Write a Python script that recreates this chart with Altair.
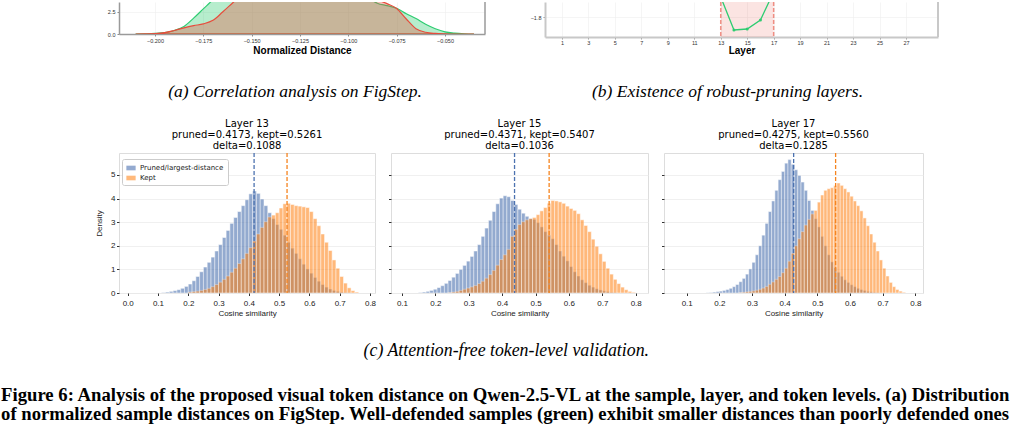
import altair as alt
import pandas as pd

SANS = "DejaVu Sans"
SERIF = "Liberation Serif"

GREEN = "#2ecc71"
RED = "#e74c3c"
BLUE = "#4c72b0"
ORANGE = "#ff7f0e"
ORANGE_LINE = "#f5841f"

# ---------------- (a) normalized sample distance densities (bottom part visible) -------------
a_x = [-0.210, -0.205, -0.200, -0.195, -0.190, -0.185, -0.180, -0.175, -0.170, -0.165,
       -0.160, -0.155, -0.150, -0.140, -0.130, -0.120, -0.110, -0.100, -0.095, -0.090,
       -0.085, -0.080, -0.075, -0.070, -0.065, -0.060, -0.055, -0.050, -0.045, -0.040, -0.035]
a_green = [0.00, 0.02, 0.06, 0.15, 0.40, 0.85, 1.80, 2.85, 3.90, 5.00,
           6.00, 6.80, 7.50, 8.50, 9.00, 9.00, 8.50, 7.00, 5.50, 4.20,
           3.50, 3.22, 2.93, 2.30, 1.75, 1.10, 0.60, 0.25, 0.10, 0.03, 0.00]
a_red = [0.00, 0.02, 0.05, 0.15, 0.40, 0.70, 0.95, 1.15, 1.55, 2.50,
         3.50, 4.50, 5.50, 7.00, 8.00, 8.50, 8.00, 6.50, 5.20, 4.40,
         3.90, 3.45, 2.90, 1.70, 0.60, 0.20, 0.07, 0.02, 0.00, 0.00, 0.00]
a_ticks = [-0.200, -0.175, -0.150, -0.125, -0.100, -0.075, -0.050]
a_yticks = [0.0, 2.5]

# ---------------- (b) robust-pruning layers (bottom part visible) ----------------
b_layers = [13, 14, 15, 16, 17]
b_distance = [-1.60, -1.93, -1.92, -1.83, -1.55]
b_robust = [13, 17]
b_ticks = [1, 3, 5, 7, 9, 11, 13, 15, 17, 19, 21, 23, 25, 27]
b_yticks = [-1.8]

# ---------------- (c) token-level histograms ----------------
SERIES = ["Pruned/largest-distance", "Kept"]
c_layers = [13, 15, 17]
c_pruned_mean = [0.4173, 0.4371, 0.4275]
c_kept_mean = [0.5261, 0.5407, 0.5560]
c_delta = [0.1088, 0.1036, 0.1285]
c_bin_width = [0.0125, 0.011, 0.01]
c_pruned_first_edge = [0.1125, 0.150, 0.160]
c_kept_first_edge = [0.2000, 0.238, 0.260]
c_pruned_density = [
    [0.02, 0.04, 0.07, 0.10, 0.14, 0.20, 0.28, 0.38, 0.52, 0.70,
     0.90, 1.10, 1.30, 1.52, 1.78, 2.05, 2.35, 2.65, 2.95, 3.20,
     3.45, 3.70, 3.95, 4.20, 4.32, 4.22, 3.98, 3.70, 3.40, 3.15,
     2.90, 2.70, 2.45, 2.15, 1.90, 1.68, 1.45, 1.22, 1.02, 0.84,
     0.66, 0.50, 0.36, 0.25, 0.17, 0.11, 0.07, 0.04, 0.02, 0.01],
    [0.02, 0.04, 0.07, 0.11, 0.16, 0.23, 0.31, 0.41, 0.53, 0.67,
     0.83, 1.00, 1.17, 1.35, 1.55, 1.78, 2.05, 2.40, 2.75, 3.08,
     3.45, 3.78, 4.02, 4.12, 4.08, 3.92, 3.75, 3.55, 3.38, 3.25,
     3.15, 3.12, 2.98, 2.80, 2.60, 2.45, 2.30, 2.05, 1.78, 1.56,
     1.36, 1.12, 0.90, 0.72, 0.56, 0.44, 0.33, 0.25, 0.18, 0.13,
     0.09, 0.06, 0.03, 0.02],
    [0.01, 0.02, 0.04, 0.06, 0.08, 0.11, 0.15, 0.20, 0.27, 0.36,
     0.48, 0.62, 0.80, 1.02, 1.30, 1.62, 2.00, 2.45, 2.95, 3.45,
     3.90, 4.35, 4.80, 5.15, 5.50, 5.65, 5.45, 5.22, 4.98, 4.70,
     4.35, 3.92, 3.50, 3.15, 2.80, 2.40, 2.00, 1.62, 1.32, 1.08,
     0.88, 0.71, 0.56, 0.45, 0.35, 0.27, 0.20, 0.15, 0.11, 0.07,
     0.05, 0.03, 0.02],
]
c_kept_density = [
    [0.04, 0.06, 0.08, 0.11, 0.15, 0.20, 0.27, 0.36, 0.46, 0.58,
     0.72, 0.88, 1.05, 1.25, 1.45, 1.68, 1.92, 2.20, 2.50, 2.78,
     3.02, 3.22, 3.30, 3.40, 3.60, 3.78, 3.80, 3.75, 3.70, 3.68,
     3.65, 3.62, 3.45, 3.15, 2.85, 2.50, 2.15, 1.80, 1.40, 1.05,
     0.70, 0.42, 0.22, 0.10, 0.04],
    [0.02, 0.04, 0.07, 0.11, 0.16, 0.21, 0.26, 0.32, 0.40, 0.50,
     0.63, 0.78, 0.96, 1.18, 1.42, 1.62, 1.85, 2.40, 2.70, 2.90,
     3.02, 3.10, 3.15, 3.20, 3.32, 3.48, 3.62, 3.80, 3.92, 3.90,
     3.86, 3.80, 3.68, 3.58, 3.50, 3.36, 3.10, 2.86, 2.60, 2.28,
     1.98, 1.66, 1.34, 1.05, 0.80, 0.58, 0.40, 0.25, 0.14, 0.07,
     0.03],
    [0.02, 0.03, 0.05, 0.07, 0.09, 0.12, 0.16, 0.21, 0.28, 0.37,
     0.47, 0.58, 0.70, 0.86, 1.05, 1.35, 1.68, 2.00, 2.30, 2.60,
     2.88, 3.12, 3.35, 3.50, 3.85, 4.15, 4.35, 4.42, 4.46, 4.55,
     4.66, 4.56, 4.42, 4.28, 4.10, 3.90, 3.70, 3.48, 3.18, 2.85,
     2.50, 2.15, 1.78, 1.40, 1.05, 0.72, 0.45, 0.27, 0.15, 0.08,
     0.03],
]
c_x_domain = [[-0.0287, 0.8165], [0.0671, 0.8368], [0.0305, 0.8236]]
c_x_ticks = [[0.0, 0.1, 0.2, 0.3, 0.4, 0.5, 0.6, 0.7, 0.8],
             [0.1, 0.2, 0.3, 0.4, 0.5, 0.6, 0.7, 0.8],
             [0.1, 0.2, 0.3, 0.4, 0.5, 0.6, 0.7, 0.8]]
c_y_ticks = [0, 1, 2, 3, 4, 5]
c_y_max = 5.93

caption_a = "(a) Correlation analysis on FigStep."
caption_b = "(b) Existence of robust-pruning layers."
caption_c = "(c) Attention-free token-level validation."
figure_caption = [
    "Figure 6: Analysis of the proposed visual token distance on Qwen-2.5-VL at the sample, layer, and token levels. (a) Distribution",
    "of normalized sample distances on FigStep. Well-defended samples (green) exhibit smaller distances than poorly defended ones",
]

# ---------------- sizes ----------------
A_W, A_H = 366, 32
B_W, B_H = 393, 35
P_W = [256, 257, 259]
P_H = 140


def caption_title(text, offset, dx):
    return alt.TitleParams(text=text, orient="bottom", anchor="middle", frame="group",
                           font=SERIF, fontSize=17.5, fontStyle="italic", fontWeight="normal",
                           color="black", baseline="middle", offset=offset, dx=dx)


# ---------------- chart (a) ----------------
a_rows = [{"x": x, "density": d, "group": "Well-defended"} for x, d in zip(a_x, a_green)]
a_rows += [{"x": x, "density": d, "group": "Poorly-defended"} for x, d in zip(a_x, a_red)]
a_df = pd.DataFrame(a_rows)
a_xscale = alt.Scale(domain=[-0.2186, -0.0293], nice=False, zero=False)
a_yscale = alt.Scale(domain=[0, 3.636], nice=False)
a_xaxis = alt.Axis(values=a_ticks, format=".3f", labelFontSize=5.5, tickSize=2, labelPadding=2,
                   labelOverlap=False, tickColor="#888888", labelColor="#333333",
                   title="Normalized Distance", titleFontSize=10, titleFontWeight="bold",
                   titleColor="black", titlePadding=2, domainColor="#9a9a9a", domainWidth=1.5,
                   grid=True, gridColor="#efefef", gridWidth=0.6)
a_yaxis = alt.Axis(values=a_yticks, format=".1f", labelFontSize=5.5, tickSize=2, labelPadding=2,
                   labelOverlap=False, tickColor="#888888", labelColor="#333333", title=None,
                   domainColor="#9a9a9a", domainWidth=1.5, grid=True, gridColor="#efefef", gridWidth=0.6)


def a_area(group, color):
    return alt.Chart(a_df).transform_filter(alt.datum.group == group).mark_area(
        clip=True, interpolate="monotone", color=color, fillOpacity=0.35,
        stroke=color, strokeWidth=1.2, strokeOpacity=1
    ).encode(
        x=alt.X("x:Q", scale=a_xscale, axis=a_xaxis),
        y=alt.Y("density:Q", scale=a_yscale, axis=a_yaxis),
    )


a_border = alt.Chart(pd.DataFrame({"k": [0]})).mark_rule(color="#9a9a9a", strokeWidth=1.5).encode(
    x=alt.value(A_W), y=alt.value(0), y2=alt.value(A_H))

chart_a = alt.layer(a_area("Well-defended", GREEN), a_area("Poorly-defended", RED), a_border).properties(
    width=A_W, height=A_H, view=alt.ViewBackground(stroke="transparent"),
    title=caption_title(caption_a, 36, -7))

# ---------------- chart (b) ----------------
b_xscale = alt.Scale(domain=[-0.28, 29.42], nice=False, zero=False)
b_yscale = alt.Scale(domain=[-2.0, -1.65], nice=False, zero=False)
b_xaxis = alt.Axis(values=b_ticks, format="d", labelFontSize=5.5, tickSize=2, labelPadding=1,
                   labelOverlap=False, tickColor="#999999", labelColor="#333333", title="Layer",
                   titleFontSize=10, titleFontWeight="bold", titleColor="black", titlePadding=0,
                   domainColor="#c8c8c8", domainWidth=2, grid=True, gridColor="#eeeeee", gridWidth=0.6)
b_yaxis = alt.Axis(values=b_yticks, format=".1f", labelFontSize=5.5, tickSize=2, labelPadding=2,
                   labelOverlap=False, tickColor="#999999", labelColor="#333333", title=None,
                   domainColor="#c8c8c8", domainWidth=2, grid=True, gridColor="#eeeeee", gridWidth=0.6)

b_band_df = pd.DataFrame({"start": [b_robust[0]], "end": [b_robust[1]]})
b_rule_df = pd.DataFrame({"layer": b_robust})
b_df = pd.DataFrame({"layer": b_layers, "distance": b_distance})

b_band = alt.Chart(b_band_df).mark_rect(color=RED, opacity=0.15).encode(
    x=alt.X("start:Q", scale=b_xscale, axis=b_xaxis), x2="end:Q")
b_rules = alt.Chart(b_rule_df).mark_rule(color=RED, opacity=0.6, strokeWidth=1.5, strokeDash=[4, 2]).encode(
    x=alt.X("layer:Q", scale=b_xscale, axis=b_xaxis))
b_line = alt.Chart(b_df).mark_line(color=GREEN, strokeWidth=1.3, clip=True).encode(
    x=alt.X("layer:Q", scale=b_xscale, axis=b_xaxis),
    y=alt.Y("distance:Q", scale=b_yscale, axis=b_yaxis))
b_points = alt.Chart(b_df).mark_circle(color=GREEN, size=9, opacity=1, clip=True).encode(
    x=alt.X("layer:Q", scale=b_xscale, axis=b_xaxis),
    y=alt.Y("distance:Q", scale=b_yscale, axis=b_yaxis))
b_border = alt.Chart(pd.DataFrame({"k": [0]})).mark_rule(color="#c8c8c8", strokeWidth=2).encode(
    x=alt.value(B_W), y=alt.value(0), y2=alt.value(B_H))

chart_b = alt.layer(b_band, b_rules, b_line, b_points, b_border).properties(
    width=B_W, height=B_H, view=alt.ViewBackground(stroke="transparent"),
    title=caption_title(caption_b, 36, -14))

row1 = alt.hconcat(chart_a, chart_b, spacing=60, bounds="flush")


# ---------------- histogram panels ----------------
def hist_panel(i):
    w = c_bin_width[i]
    rows = []
    for j, d in enumerate(c_pruned_density[i]):
        s = c_pruned_first_edge[i] + j * w
        rows.append({"start": s, "end": s + w, "density": d, "series": SERIES[0]})
    for j, d in enumerate(c_kept_density[i]):
        s = c_kept_first_edge[i] + j * w
        rows.append({"start": s, "end": s + w, "density": d, "series": SERIES[1]})
    df = pd.DataFrame(rows)

    xscale = alt.Scale(domain=c_x_domain[i], nice=False, zero=False)
    yscale = alt.Scale(domain=[0, c_y_max], nice=False)
    xaxis = alt.Axis(values=c_x_ticks[i], format=".1f", labelFontSize=8, tickSize=2.5, labelPadding=3.5,
                     labelOverlap=False, tickColor="#333333", labelColor="#222222",
                     title="Cosine similarity", titleFontSize=8, titleFontWeight="normal",
                     titleColor="#222222", titlePadding=2, domain=False, grid=False)
    if i == 0:
        yaxis = alt.Axis(values=c_y_ticks, format="d", labelFontSize=8, tickSize=2.5, labelPadding=1.5,
                         labelOverlap=False, tickColor="#333333", labelColor="#222222", title="Density",
                         titleFontSize=8, titleFontWeight="normal", titleColor="#222222",
                         titlePadding=7, domain=False, grid=True, gridColor="#ececec", gridWidth=0.8)
        legend = alt.Legend(title=None, orient="none", legendX=3, legendY=6, fillColor="white",
                            strokeColor="#cccccc", padding=4, cornerRadius=2, labelFontSize=7,
                            labelFont=SANS, labelColor="#222222", symbolType="M-1,-0.5H1V0.5H-1Z",
                            symbolSize=86, symbolStrokeWidth=0, symbolOpacity=0.6, rowPadding=2,
                            labelLimit=300)
    else:
        yaxis = alt.Axis(values=c_y_ticks, labels=False, tickSize=2.5, tickColor="#333333", title=None,
                         domain=False, grid=True, gridColor="#ececec", gridWidth=0.8)
        legend = None

    bars = alt.Chart(df).mark_rect(stroke="white", strokeWidth=0.5, clip=True).encode(
        x=alt.X("start:Q", scale=xscale, axis=xaxis),
        x2="end:Q",
        y=alt.Y("density:Q", scale=yscale, axis=yaxis),
        y2=alt.datum(0),
        color=alt.Color("series:N", scale=alt.Scale(domain=SERIES, range=[BLUE, ORANGE]), legend=legend),
        opacity=alt.Opacity("series:N", scale=alt.Scale(domain=SERIES, range=[0.6, 0.55]), legend=None),
    )
    means = pd.DataFrame({"v": [c_pruned_mean[i], c_kept_mean[i]], "col": [BLUE, ORANGE_LINE]})
    rules = alt.Chart(means).mark_rule(strokeDash=[4, 2], strokeWidth=1.3).encode(
        x=alt.X("v:Q", scale=xscale, axis=xaxis),
        color=alt.Color("col:N", scale=None),
    )
    title = alt.TitleParams(
        text=[f"Layer {c_layers[i]}",
              f"pruned={c_pruned_mean[i]:.4f}, kept={c_kept_mean[i]:.4f}",
              f"delta={c_delta[i]:.4f}"],
        font=SANS, fontSize=10, fontWeight="normal", color="black", lineHeight=11.3,
        anchor="middle", frame="group", baseline="bottom", offset=-9)
    return alt.layer(bars, rules).properties(width=P_W[i], height=P_H, title=title)


row2 = alt.hconcat(hist_panel(0), hist_panel(1), hist_panel(2), spacing=16, bounds="flush",
                   title=alt.TitleParams(text=caption_c, orient="bottom", anchor="middle",
                                         font=SERIF, fontSize=17.8, fontStyle="italic",
                                         fontWeight="normal", color="black", baseline="middle",
                                         offset=33, dx=-3)
                   ).resolve_legend(color="independent", opacity="independent")

chart = alt.vconcat(
    row1, row2, spacing=151, bounds="flush",
    title=alt.TitleParams(text=figure_caption, orient="bottom", anchor="start", font=SERIF,
                          fontSize=18.7, fontWeight="bold", color="black", lineHeight=19,
                          baseline="top", offset=27, dx=-94)
).resolve_legend(
    color="independent", opacity="independent"
).properties(
    padding={"left": 1, "top": 0, "right": 0, "bottom": 0}
).configure_view(
    stroke="#333333", strokeWidth=1
).configure_axis(
    labelFont=SANS, titleFont=SANS
).configure(background="white")

chart.save("out.html", embed_options={"renderer": "svg", "actions": False})
